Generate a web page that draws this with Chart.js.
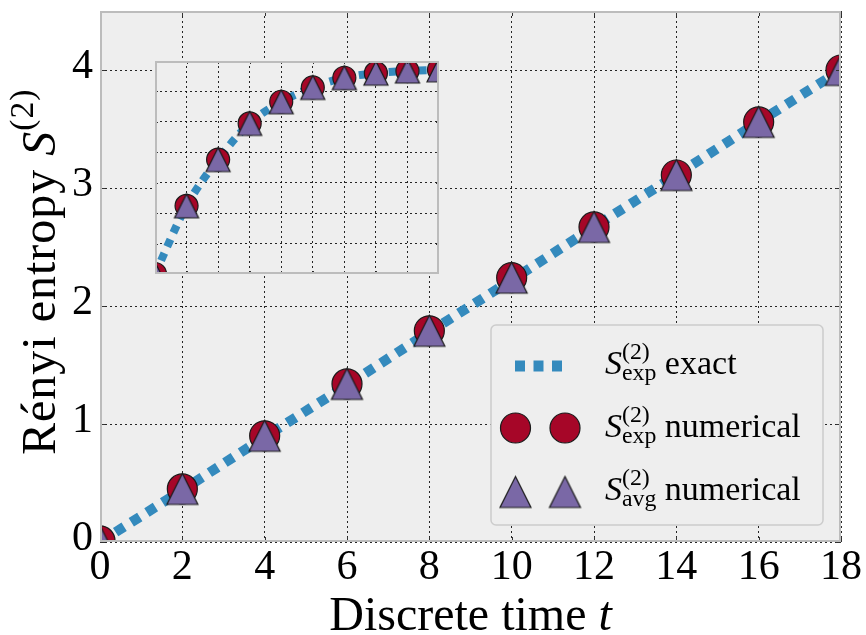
<!DOCTYPE html>
<html>
<head>
<meta charset="utf-8">
<script src="https://cdn.jsdelivr.net/npm/chart.js@4/dist/chart.umd.min.js"></script>
<style>
  body { margin: 0; background: #fff; }
  #wrap { position: relative; width: 866px; height: 635px; }
  #mainChart { position: absolute; left: 0; top: 0; }
  #insetChart { position: absolute; left: 155px; top: 61px; }
</style>
</head>
<body>
<div id="wrap">
  <canvas id="mainChart" width="866" height="635"></canvas>
  <canvas id="insetChart" width="284" height="213"></canvas>
</div>
<script>
// main panel: entropy growth over discrete time
var timeSteps = [0, 2, 4, 6, 8, 10, 12, 14, 16, 18];
var expExact = [0, 0.44, 0.89, 1.33, 1.78, 2.22, 2.67, 3.11, 3.56, 4.0];
var expNumerical = [0.01, 0.45, 0.90, 1.34, 1.79, 2.24, 2.67, 3.11, 3.56, 4.0];
var avgNumerical = [0.01, 0.45, 0.90, 1.34, 1.79, 2.24, 2.67, 3.11, 3.56, 4.0];
var xTicks = [0, 2, 4, 6, 8, 10, 12, 14, 16, 18];
var yTicks = [0, 1, 2, 3, 4];

// inset: saturating case
var insetSteps = [0, 1, 2, 3, 4, 5, 6, 7, 8, 9];
var insetExact = [0, 0.224, 0.376, 0.495, 0.566, 0.613, 0.645, 0.660, 0.667, 0.671];
var insetExpNumerical = [0, 0.224, 0.376, 0.495, 0.566, 0.613, 0.645, 0.660, 0.667, 0.671];
var insetAvgNumerical = [0, 0.224, 0.376, 0.495, 0.566, 0.613, 0.645, 0.660, 0.667, 0.671];
var insetYTicks = [0, 0.1, 0.2, 0.3, 0.4, 0.5, 0.6, 0.7];

var blue = '#348ABD', red = '#A60628', purple = '#7A68A6';
var serif = '"Liberation Serif", "Times New Roman", serif';
Chart.defaults.font.family = serif;
Chart.defaults.color = '#000';

function toXY(xs, ys) {
  return xs.map(function (x, i) { return { x: x, y: ys[i] }; });
}

// matplotlib-style "^" marker: as wide as it is tall
function triangleMarker(size) {
  var pad = 2;
  var c = document.createElement('canvas');
  c.width = size + pad * 2;
  c.height = size + pad * 2;
  var g = c.getContext('2d');
  g.beginPath();
  g.moveTo(pad + size / 2, pad);
  g.lineTo(pad + size, pad + size);
  g.lineTo(pad, pad + size);
  g.closePath();
  g.fillStyle = purple;
  g.fill();
  g.lineWidth = 1.2;
  g.strokeStyle = '#1a1a1a';
  g.stroke();
  return c;
}

// text runs: {text, italic} or {sup, sub} stacked scripts
function richText(ctx, runs, x, y, size, draw) {
  var cx = x;
  runs.forEach(function (r) {
    if (r.sup !== undefined) {
      var s = size * 0.7;
      ctx.font = s + 'px ' + serif;
      var w1 = ctx.measureText(r.sup).width, w2 = 0;
      if (draw) ctx.fillText(r.sup, cx, y - size * 0.45);
      if (r.sub) {
        w2 = ctx.measureText(r.sub).width;
        if (draw) ctx.fillText(r.sub, cx, y + size * 0.17);
      }
      cx += Math.max(w1, w2);
    } else {
      ctx.font = (r.italic ? 'italic ' : '') + size + 'px ' + serif;
      if (draw) ctx.fillText(r.text, cx, y);
      cx += ctx.measureText(r.text).width;
    }
  });
  return cx - x;
}

function framePlugin(xs, ys, tickLen) {
  return {
    id: 'frame',
    beforeDraw: function (chart) {
      var ctx = chart.ctx, a = chart.chartArea;
      ctx.save();
      ctx.fillStyle = '#fff';
      ctx.fillRect(0, 0, chart.width, chart.height);
      ctx.fillStyle = '#eeeeee';
      ctx.fillRect(a.left, a.top, a.right - a.left, a.bottom - a.top);
      ctx.restore();
    },
    afterDatasetsDraw: function (chart) {
      var ctx = chart.ctx, a = chart.chartArea;
      var sx = chart.scales.x, sy = chart.scales.y;
      ctx.save();
      ctx.strokeStyle = '#333';
      ctx.lineWidth = 1;
      ctx.beginPath();
      xs.forEach(function (v) {
        var px = Math.round(sx.getPixelForValue(v)) + 0.5;
        ctx.moveTo(px, a.bottom); ctx.lineTo(px, a.bottom - tickLen);
        ctx.moveTo(px, a.top); ctx.lineTo(px, a.top + tickLen);
      });
      ys.forEach(function (v) {
        var py = Math.round(sy.getPixelForValue(v)) + 0.5;
        ctx.moveTo(a.left, py); ctx.lineTo(a.left + tickLen, py);
        ctx.moveTo(a.right, py); ctx.lineTo(a.right - tickLen, py);
      });
      ctx.stroke();
      ctx.strokeStyle = '#bcbcbc';
      ctx.lineWidth = 2;
      ctx.strokeRect(a.left + 1, a.top + 1, a.right - a.left - 2, a.bottom - a.top - 2);
      ctx.restore();
    }
  };
}

var axisTitles = {
  id: 'axisTitles',
  afterDraw: function (chart) {
    var ctx = chart.ctx, a = chart.chartArea;
    ctx.save();
    ctx.fillStyle = '#000';
    ctx.textBaseline = 'alphabetic';
    var xRuns = [{ text: 'Discrete time ' }, { text: 't', italic: true }];
    var w = richText(ctx, xRuns, 0, 0, 48, false);
    richText(ctx, xRuns, (a.left + a.right) / 2 - w / 2, 630, 48, true);

    // vertical title reads upward from just above the "1" tick label
    var yRuns = [{ text: 'Rényi entropy ' }, { text: 'S', italic: true }, { sup: '(2)' }];
    ctx.translate(55, 455);
    ctx.rotate(-Math.PI / 2);
    ctx.letterSpacing = '1px';
    richText(ctx, yRuns, 0, 0, 48, true);
    ctx.restore();
  }
};

var legendBox = {
  id: 'legendBox',
  afterDraw: function (chart) {
    var ctx = chart.ctx;
    var x0 = 491, y0 = 325, x1 = 823, y1 = 525, r = 5;
    ctx.save();
    ctx.beginPath();
    ctx.moveTo(x0 + r, y0);
    ctx.arcTo(x1, y0, x1, y1, r);
    ctx.arcTo(x1, y1, x0, y1, r);
    ctx.arcTo(x0, y1, x0, y0, r);
    ctx.arcTo(x0, y0, x1, y0, r);
    ctx.closePath();
    ctx.fillStyle = '#eeeeee';
    ctx.fill();
    ctx.strokeStyle = '#cccccc';
    ctx.lineWidth = 1.5;
    ctx.stroke();

    // exact: dotted line sample
    ctx.strokeStyle = blue;
    ctx.lineWidth = 11;
    ctx.setLineDash([10, 8.5]);
    ctx.beginPath();
    ctx.moveTo(515, 366);
    ctx.lineTo(562, 366);
    ctx.stroke();
    ctx.setLineDash([]);

    // numerical: circles and triangles
    [515.5, 565].forEach(function (cx) {
      ctx.beginPath();
      ctx.arc(cx, 428, 15, 0, Math.PI * 2);
      ctx.fillStyle = red;
      ctx.fill();
      ctx.lineWidth = 1.2;
      ctx.strokeStyle = '#1a1a1a';
      ctx.stroke();
      ctx.drawImage(legendTri, cx - legendTri.width / 2, 492 - legendTri.height / 2);
    });

    ctx.fillStyle = '#000';
    ctx.textBaseline = 'alphabetic';
    var rows = [
      { y: 374, runs: [{ text: 'S', italic: true }, { sup: '(2)', sub: 'exp' }, { text: ' exact' }] },
      { y: 437, runs: [{ text: 'S', italic: true }, { sup: '(2)', sub: 'exp' }, { text: ' numerical' }] },
      { y: 500, runs: [{ text: 'S', italic: true }, { sup: '(2)', sub: 'avg' }, { text: ' numerical' }] }
    ];
    rows.forEach(function (row) { richText(ctx, row.runs, 605, row.y, 34, true); });
    ctx.restore();
  }
};

var mainTri = triangleMarker(31);
var legendTri = triangleMarker(31);
var insetTri = triangleMarker(24);

function gridOpts() {
  return { color: 'rgba(0,0,0,0.85)', lineWidth: 1, drawTicks: false };
}

new Chart(document.getElementById('mainChart'), {
  type: 'line',
  data: {
    datasets: [
      {
        label: 'avg numerical', data: toXY(timeSteps, avgNumerical), showLine: false,
        pointStyle: mainTri, pointRadius: 15, pointHoverRadius: 15, order: 0, clip: 0
      },
      {
        label: 'exp numerical', data: toXY(timeSteps, expNumerical), showLine: false,
        pointStyle: 'circle', pointRadius: 15, pointHoverRadius: 15,
        pointBackgroundColor: red, pointBorderColor: '#1a1a1a', pointBorderWidth: 1.2,
        order: 1, clip: 0
      },
      {
        label: 'exp exact', data: toXY(timeSteps, expExact), borderColor: blue,
        borderWidth: 10, borderDash: [10, 8.5], borderCapStyle: 'butt',
        pointRadius: 0, pointHoverRadius: 0, tension: 0, fill: false, order: 2, clip: 0
      }
    ]
  },
  options: {
    responsive: false,
    animation: false,
    events: [],
    layout: { autoPadding: false, padding: { left: 0, right: 25, top: 11, bottom: 0 } },
    plugins: { legend: { display: false }, tooltip: { enabled: false } },
    scales: {
      x: {
        type: 'linear', min: 0, max: 18,
        afterBuildTicks: function (s) { s.ticks = xTicks.map(function (v) { return { value: v }; }); },
        afterFit: function (s) { s.height = 93; s.paddingLeft = 0; s.paddingRight = 0; },
        ticks: { font: { size: 42 }, color: '#000', padding: 1, maxRotation: 0, autoSkip: false },
        grid: gridOpts(),
        border: { display: false, dash: [2, 3] }
      },
      y: {
        min: 0, max: 4.5,
        afterBuildTicks: function (s) { s.ticks = yTicks.map(function (v) { return { value: v }; }); },
        afterFit: function (s) { s.width = 100; s.paddingTop = 0; s.paddingBottom = 0; },
        ticks: { font: { size: 42 }, color: '#000', padding: 7, labelOffset: -3 },
        grid: gridOpts(),
        border: { display: false, dash: [2, 3] }
      }
    }
  },
  plugins: [framePlugin(xTicks, yTicks, 5), axisTitles, legendBox]
});

new Chart(document.getElementById('insetChart'), {
  type: 'line',
  data: {
    datasets: [
      {
        data: toXY(insetSteps, insetAvgNumerical), showLine: false,
        pointStyle: insetTri, pointRadius: 12, pointHoverRadius: 12, order: 0, clip: 0
      },
      {
        data: toXY(insetSteps, insetExpNumerical), showLine: false,
        pointStyle: 'circle', pointRadius: 11.5, pointHoverRadius: 11.5,
        pointBackgroundColor: red, pointBorderColor: '#1a1a1a', pointBorderWidth: 1.2,
        order: 1, clip: 0
      },
      {
        data: toXY(insetSteps, insetExact), borderColor: blue,
        borderWidth: 8, borderDash: [8, 7], borderCapStyle: 'butt',
        cubicInterpolationMode: 'monotone',
        pointRadius: 0, pointHoverRadius: 0, fill: false, order: 2, clip: 0
      }
    ]
  },
  options: {
    responsive: false,
    animation: false,
    events: [],
    layout: { autoPadding: false, padding: 0 },
    plugins: { legend: { display: false }, tooltip: { enabled: false } },
    scales: {
      x: {
        type: 'linear', min: 0, max: 9,
        afterBuildTicks: function (s) { s.ticks = insetSteps.map(function (v) { return { value: v }; }); },
        afterFit: function (s) { s.height = 0; s.paddingLeft = 0; s.paddingRight = 0; },
        ticks: { display: false },
        grid: gridOpts(),
        border: { display: false, dash: [2, 3] }
      },
      y: {
        min: 0, max: 0.7,
        afterBuildTicks: function (s) { s.ticks = insetYTicks.map(function (v) { return { value: v }; }); },
        afterFit: function (s) { s.width = 0; s.paddingTop = 0; s.paddingBottom = 0; },
        ticks: { display: false },
        grid: gridOpts(),
        border: { display: false, dash: [2, 3] }
      }
    }
  },
  plugins: [framePlugin(insetSteps, insetYTicks, 3)]
});
</script>
</body>
</html>
